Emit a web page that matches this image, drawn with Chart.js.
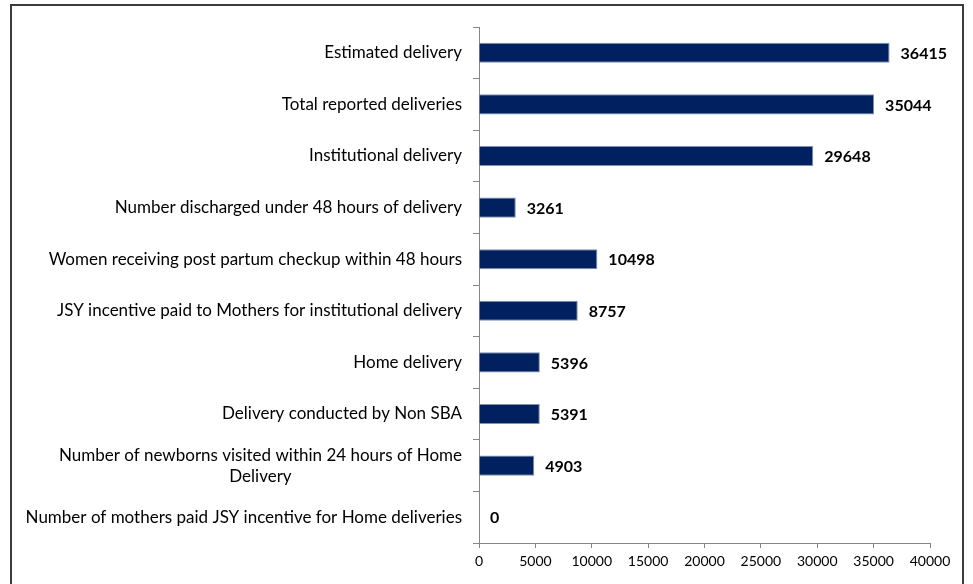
<!DOCTYPE html>
<html>
<head>
<meta charset="utf-8">
<script src="https://cdn.jsdelivr.net/npm/chart.js@4.4.1/dist/chart.umd.min.js"></script>
<style>
  html, body { margin: 0; padding: 0; background: #fff; }
  #wrap { position: relative; width: 973px; height: 584px; overflow: hidden; }
  #frame { position: absolute; left: 10px; top: 4px; width: 954px; height: 600px; border: 2px solid #3c3c3c; box-sizing: border-box; }
  canvas { position: absolute; left: 0; top: 0; }
</style>
</head>
<body>
<div id="wrap">
  <div id="frame"></div>
  <canvas id="grafico" width="973" height="584"></canvas>
</div>
<script>
// datos
const categorias = [
  "Estimated delivery",
  "Total reported deliveries",
  "Institutional delivery",
  "Number discharged under 48 hours of delivery",
  "Women receiving post partum checkup within 48 hours",
  "JSY incentive paid to Mothers for institutional delivery",
  "Home delivery",
  "Delivery conducted by Non SBA",
  ["Number of newborns visited within 24 hours of Home", "Delivery"],
  "Number of mothers paid JSY incentive for Home deliveries"
];
const valores = [36415, 35044, 29648, 3261, 10498, 8757, 5396, 5391, 4903, 0];
const ejeMin = 0;
const ejeMax = 40000;
const ejePaso = 5000;

const fuente = "Lato, 'Open Sans', sans-serif";

// etiquetas de categoria (bloque alineado a la derecha, lineas centradas)
const etiquetasCategoria = {
  id: "etiquetasCategoria",
  afterDraw(chart) {
    const ctx = chart.ctx;
    const escala = chart.scales.y;
    const derecha = escala.right - 17;
    ctx.save();
    ctx.font = "17px " + fuente;
    ctx.fillStyle = "#000";
    ctx.textBaseline = "middle";
    categorias.forEach((lab, i) => {
      const lineas = Array.isArray(lab) ? lab : [lab];
      const ancho = Math.max(...lineas.map(l => ctx.measureText(l).width));
      const centroX = derecha - ancho / 2;
      const y0 = escala.getPixelForTick(i) - (lineas.length - 1) * 21 / 2;
      ctx.textAlign = "center";
      lineas.forEach((l, k) => ctx.fillText(l, centroX, y0 + k * 21));
    });
    ctx.restore();
  }
};

// etiquetas de valor al final de cada barra
const etiquetasValor = {
  id: "etiquetasValor",
  afterDatasetsDraw(chart) {
    const ctx = chart.ctx;
    const meta = chart.getDatasetMeta(0);
    ctx.save();
    ctx.font = "bold 16px " + fuente;
    ctx.fillStyle = "#000";
    ctx.textAlign = "left";
    ctx.textBaseline = "middle";
    meta.data.forEach((bar, i) => {
      ctx.fillText(String(valores[i]), bar.x + 11, bar.y + 1);
    });
    ctx.restore();
  }
};

new Chart(document.getElementById("grafico").getContext("2d"), {
  type: "bar",
  data: {
    labels: categorias,
    datasets: [{
      data: valores,
      backgroundColor: "#002060",
      borderColor: "#7f90b0",
      borderWidth: 1,
      categoryPercentage: 1,
      barPercentage: 0.39
    }]
  },
  options: {
    indexAxis: "y",
    responsive: false,
    animation: false,
    layout: { padding: { top: 27, right: 43, bottom: 0, left: 0 } },
    plugins: {
      legend: { display: false },
      tooltip: { enabled: false }
    },
    scales: {
      x: {
        min: ejeMin,
        max: ejeMax,
        ticks: { stepSize: ejePaso, color: "#000", font: { family: fuente, size: 14 }, padding: 5,
          callback: v => String(v) },
        grid: { drawOnChartArea: false, tickLength: 5, color: "#868686" },
        border: { color: "#868686" },
        afterFit: s => { s.height = 41; }
      },
      y: {
        ticks: { display: false },
        grid: { drawOnChartArea: false, tickLength: 6, color: "#868686", offset: true },
        border: { color: "#868686" },
        afterFit: s => { s.width = 479; }
      }
    }
  },
  plugins: [etiquetasValor, etiquetasCategoria]
});
</script>
</body>
</html>
